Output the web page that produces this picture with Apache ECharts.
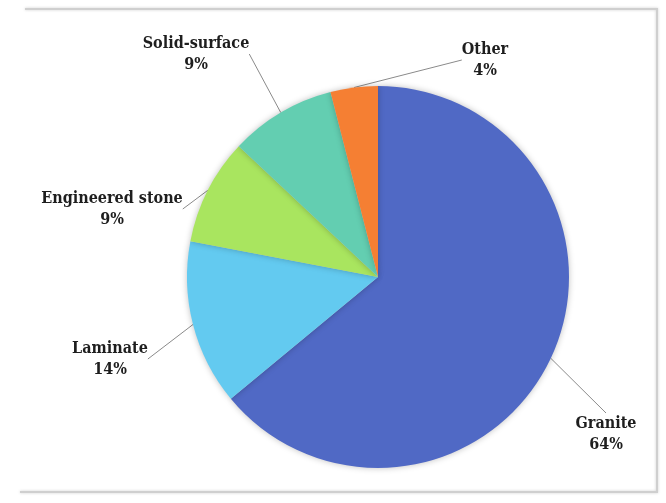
<!DOCTYPE html>
<html>
<head>
<meta charset="utf-8">
<script src="https://cdn.jsdelivr.net/npm/echarts@6/dist/echarts.min.js"></script>
<style>
  html, body { margin: 0; padding: 0; background: #fff; }
  #chart { width: 666px; height: 503px; }
</style>
</head>
<body>
<div id="chart"></div>
<script>
// countertop materials share
const categories = ['Granite', 'Laminate', 'Engineered stone', 'Solid-surface', 'Other'];
const shares = [64, 14, 9, 9, 4];
const colors = ['#5069c5', '#63caf0', '#a9e55f', '#63ceb1', '#f57f33'];

// where each label block sits (centre, px)
const labelSpots = [[606, 434], [110, 359], [112, 209], [196, 54], [485, 60]];

const chart = echarts.init(document.getElementById('chart'));

chart.setOption({
  animation: false,
  graphic: [{
    type: 'polyline',
    shape: { points: [[25, 9], [657, 9], [657, 492], [20, 492]] },
    style: { fill: null, stroke: '#cfcfcf', lineWidth: 2, shadowBlur: 3, shadowColor: 'rgba(0,0,0,0.2)' }
  }],
  series: [{
    type: 'pie',
    center: [378, 277],
    radius: 191,
    startAngle: 90,
    clockwise: true,
    data: categories.map((name, i) => ({
      name: name,
      value: shares[i],
      itemStyle: { color: colors[i] }
    })),
    itemStyle: {
      shadowBlur: 6,
      shadowColor: 'rgba(0,0,0,0.25)'
    },
    label: {
      show: true,
      position: 'outside',
      formatter: (p) => p.name + '\n' + shares[p.dataIndex] + '%',
      fontFamily: '"DejaVu Serif Condensed", "DejaVu Serif", serif',
      fontWeight: 'bold',
      fontSize: 16,
      lineHeight: 21,
      color: '#1e1e1e',
      align: 'center'
    },
    labelLine: {
      show: true,
      length: 10,
      length2: 0,
      lineStyle: { color: '#8a8a8a', width: 1 }
    },
    labelLayout: (params) => {
      const s = labelSpots[params.dataIndex];
      return { x: s[0], y: s[1], align: 'center', verticalAlign: 'middle' };
    },
    emphasis: { disabled: true }
  }]
});
</script>
</body>
</html>
